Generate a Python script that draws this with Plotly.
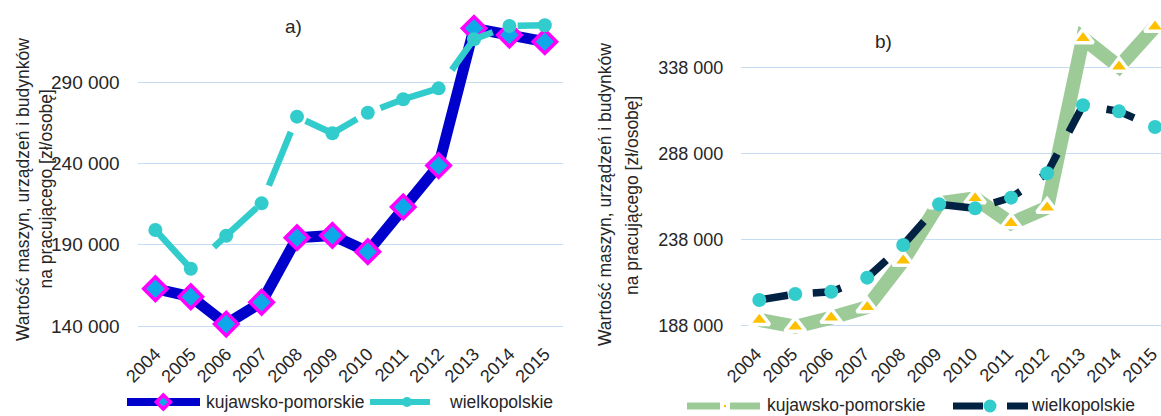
import plotly.graph_objects as go

# ---- data ----
years = ["2004", "2005", "2006", "2007", "2008", "2009",
         "2010", "2011", "2012", "2013", "2014", "2015"]

# a) value per working person [zł/osobę]
kp_a = [162900, 158000, 141200, 154600, 194300, 195700,
        185700, 213200, 238600, 323000, 318900, 314800]
wlkp_a = [199000, 175200, 195500, 215400, 268700, 258500,
          271100, 279400, 286100, 316300, 324400, 324900]

# b) value per working person [zł/osobę]
kp_b = [191100, 187200, 192400, 198500, 225600, 258900,
        261800, 247300, 256400, 354900, 338300, 361600]
wlkp_b = [202700, 206200, 207500, 215700, 234700, 258400,
          256000, 262200, 276400, 315900, 312400, 303300]

ticks_a = [140000, 190000, 240000, 290000]
ticks_b = [188000, 238000, 288000, 338000]

series_names = ["kujawsko-pomorskie", "wielkopolskie"]
panel_titles = ["a)", "b)"]
axis_title = ["Wartość maszyn, urządzeń i budynków", "na pracującego [zł/osobę]"]

# ---- styling ----
W, H = 1161, 416
FONT = "Liberation Sans, Arial, sans-serif"
TXT = "#262626"
GRID = "#C5DCF3"
BLUE = "#0000CC"
CYAN = "#33CCCC"
MAGENTA = "#FF00FF"
LIGHTBLUE = "#0EA8EA"
NAVY = "#022243"
GREEN = "#9CCB98"
GOLD = "#FFC000"


def fx(px):
    return px / W


def fy(py):
    return 1 - py / H


def fmt(v):
    return f"{v:,}".replace(",", " ")


fig = go.Figure()

# panel a)
fig.add_trace(go.Scatter(
    x=years, y=kp_a, mode="lines+markers", name=series_names[0],
    line=dict(color=BLUE, width=11),
    marker=dict(symbol="diamond", size=18, color=LIGHTBLUE,
                line=dict(color=MAGENTA, width=3.5)),
    cliponaxis=False, showlegend=False, xaxis="x", yaxis="y"))
fig.add_trace(go.Scatter(
    x=years, y=wlkp_a, mode="lines+markers", name=series_names[1],
    line=dict(color=CYAN, width=6.5, dash="58px,26px"),
    marker=dict(symbol="circle", size=14, color=CYAN),
    cliponaxis=False, showlegend=False, xaxis="x", yaxis="y"))

# panel b)
fig.add_trace(go.Scatter(
    x=years, y=kp_b, mode="lines+markers", name=series_names[0],
    line=dict(color=GREEN, width=14),
    marker=dict(symbol="triangle-up", size=18, color=GOLD,
                line=dict(color="white", width=3.5)),
    cliponaxis=False, showlegend=False, xaxis="x2", yaxis="y2"))
fig.add_trace(go.Scatter(
    x=years, y=wlkp_b, mode="lines+markers", name=series_names[1],
    line=dict(color=NAVY, width=7.5, dash="29px,25px"),
    marker=dict(symbol="circle", size=14, color=CYAN),
    cliponaxis=False, showlegend=False, xaxis="x2", yaxis="y2"))

# pixel geometry of both plot areas
top_px, bot_px = 0, 338
a_left, a_step = 137.7, 35.4
b_first, b_step = 759.3, 35.97

# value <-> pixel scales (gridline positions)
a_v0, a_p0, a_k = 140000, 326.0, 614.75
b_v0, b_p0, b_k = 338000, 67.3, 581.4
a_range = [a_v0 - (bot_px - a_p0) * a_k, a_v0 + (a_p0 - top_px) * a_k]
b_range = [b_v0 - (bot_px - b_p0) * b_k, b_v0 + (b_p0 - top_px) * b_k]

xaxis_common = dict(showgrid=False, zeroline=False, showline=False,
                    ticks="", type="category", tickangle=-45,
                    tickfont=dict(family=FONT, color=TXT, size=18),
                    ticklabelstandoff=1, automargin=False)
yaxis_common = dict(showgrid=True, gridcolor=GRID, gridwidth=1,
                    zeroline=False, showline=False, ticks="",
                    ticklabelstandoff=17, automargin=False)

fig.update_layout(
    width=W, height=H,
    margin=dict(l=0, r=0, t=0, b=0, autoexpand=False),
    paper_bgcolor="white", plot_bgcolor="white",
    font=dict(family=FONT, color=TXT),
    xaxis=dict(domain=[fx(a_left), fx(a_left + 12 * a_step)],
               range=[-0.5, 11.5], anchor="y", **xaxis_common),
    yaxis=dict(domain=[fy(bot_px), fy(top_px)], range=a_range, anchor="x",
               tickvals=ticks_a, ticktext=[fmt(v) for v in ticks_a],
               tickfont=dict(family=FONT, color=TXT, size=19), **yaxis_common),
    xaxis2=dict(domain=[fx(b_first - b_step / 2), 1.0],
                range=[-0.5, (W - b_first) / b_step], anchor="y2",
                ticklabelshift=-3, **xaxis_common),
    yaxis2=dict(domain=[fy(bot_px), fy(top_px)], range=b_range, anchor="x2",
                tickvals=ticks_b, ticktext=[fmt(v) for v in ticks_b],
                tickfont=dict(family=FONT, color=TXT, size=18), **yaxis_common),
)

ann = []


def label(x, y, text, size, angle=0, xanchor="center"):
    ann.append(dict(x=fx(x), y=fy(y), xref="paper", yref="paper", text=text,
                    showarrow=False, textangle=angle,
                    xanchor=xanchor, yanchor="middle",
                    font=dict(size=size, color=TXT, family=FONT)))


# panel letters
label(293.5, 26, panel_titles[0], 19)
label(883.5, 41.7, panel_titles[1], 19)

# vertical axis titles (two lines each)
for (x1, y1, x2, y2) in [(23, 190, 45.5, 189), (605, 195, 632, 196)]:
    label(x1, y1, axis_title[0], 17.5, angle=-90)
    label(x2, y2, axis_title[1], 17.5, angle=-90)

# legend labels
label(204, 402, series_names[0], 17.5, xanchor="left")
label(447, 402, series_names[1], 17.5, xanchor="left")
label(765, 405, series_names[0], 17.5, xanchor="left")
label(1029, 405, series_names[1], 17.5, xanchor="left")

fig.update_layout(annotations=ann)

# legend keys
shapes = []


def seg(x0, x1, y, color, width):
    shapes.append(dict(type="line", xref="paper", yref="paper",
                       x0=fx(x0), x1=fx(x1), y0=fy(y), y1=fy(y),
                       line=dict(color=color, width=width)))


def dot(cx, cy, r, color):
    shapes.append(dict(type="circle", xref="paper", yref="paper",
                       x0=fx(cx - r), x1=fx(cx + r), y0=fy(cy + r), y1=fy(cy - r),
                       fillcolor=color, line=dict(color=color, width=0)))


def diamond(cx, cy, r, fill, edge, lw):
    path = (f"M {fx(cx - r)} {fy(cy)} L {fx(cx)} {fy(cy - r)} "
            f"L {fx(cx + r)} {fy(cy)} L {fx(cx)} {fy(cy + r)} Z")
    shapes.append(dict(type="path", xref="paper", yref="paper", path=path,
                       fillcolor=fill, line=dict(color=edge, width=lw)))


seg(127, 200, 402, BLUE, 8)
diamond(163.3, 402, 7, LIGHTBLUE, MAGENTA, 3.5)
seg(370, 430, 402, CYAN, 6)
dot(407, 402, 5, CYAN)

seg(687, 720, 406, GREEN, 7)
seg(730, 760, 406, GREEN, 7)
dot(725, 406, 1.2, GOLD)
seg(953, 983, 406, NAVY, 7)
dot(990, 406, 6.5, CYAN)
seg(1007, 1028, 406, NAVY, 7)

fig.update_layout(shapes=shapes)

fig.write_html("out.html")
